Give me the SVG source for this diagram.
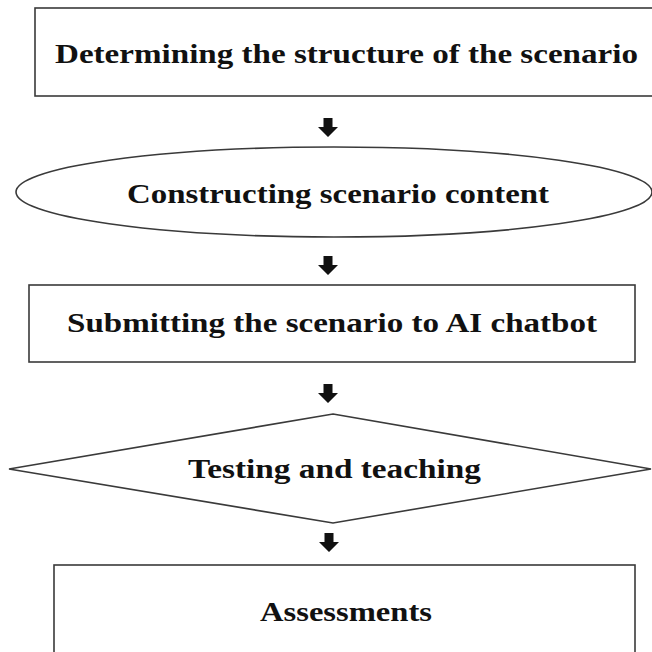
<svg xmlns="http://www.w3.org/2000/svg" width="652" height="652" viewBox="0 0 652 652">
  <style>
    .shape { fill: #ffffff; stroke: #3a3a3a; stroke-width: 1.6; }
    .label { font-family: "Liberation Serif", "Times New Roman", serif; font-weight: bold; font-size: 27px; fill: #111111; }
    .arrow { fill: #111111; stroke: none; }
  </style>
  <defs>
    <polygon id="arrowShape" points="-4.5,0 4.5,0 4.5,9 10,9 0,19 -10,9 -4.5,9"/>
  </defs>
  <rect x="0" y="0" width="652" height="652" fill="#ffffff"/>

  <g id="node-structure">
    <rect class="shape" x="35" y="8" width="630" height="88"/>
    <text class="label" x="55" y="63" textLength="583" lengthAdjust="spacingAndGlyphs">Determining the structure of the scenario</text>
  </g>

  <g id="node-content">
    <ellipse class="shape" cx="334" cy="192" rx="318" ry="45"/>
    <text class="label" x="127" y="203" textLength="422" lengthAdjust="spacingAndGlyphs">Constructing scenario content</text>
  </g>

  <g id="node-submit">
    <rect class="shape" x="29" y="285" width="606" height="77"/>
    <text class="label" x="67" y="332" textLength="530" lengthAdjust="spacingAndGlyphs">Submitting the scenario to AI chatbot</text>
  </g>

  <g id="node-testing">
    <polygon class="shape" points="333,414 651,469 333,523 9,469"/>
    <text class="label" x="188" y="478" textLength="293" lengthAdjust="spacingAndGlyphs">Testing and teaching</text>
  </g>

  <g id="node-assessments">
    <rect class="shape" x="54" y="565" width="581" height="100"/>
    <text class="label" x="260" y="621" textLength="172" lengthAdjust="spacingAndGlyphs">Assessments</text>
  </g>

  <g id="connectors">
    <use href="#arrowShape" class="arrow" x="328" y="118"/>
    <use href="#arrowShape" class="arrow" x="328" y="256"/>
    <use href="#arrowShape" class="arrow" x="328" y="384"/>
    <use href="#arrowShape" class="arrow" x="329" y="533"/>
  </g>
</svg>
